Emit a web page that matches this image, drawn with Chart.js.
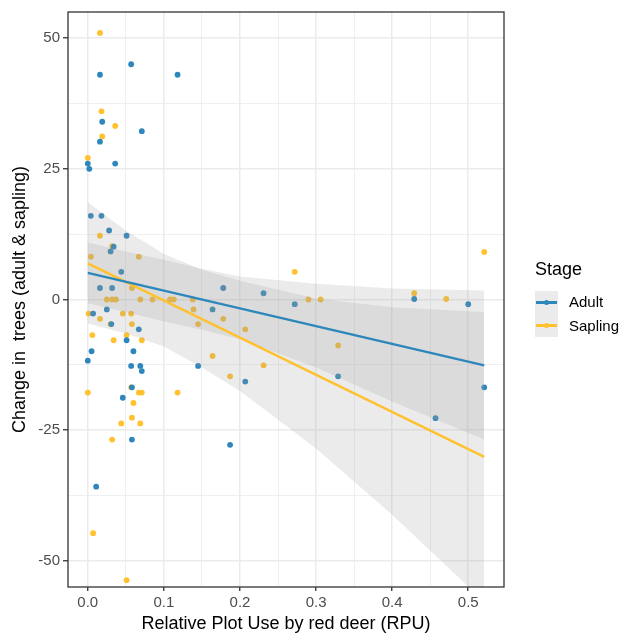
<!DOCTYPE html>
<html>
<head>
<meta charset="utf-8">
<script src="https://cdn.jsdelivr.net/npm/chart.js@4.4.1/dist/chart.umd.min.js"></script>
<style>
    body { margin: 0; background: #fff; font-family: 'Liberation Sans', Arial, sans-serif; }
    #wrap { position: relative; width: 626px; height: 635px; }
    #legend { position: absolute; left: 533px; top: 259px; color: #000; }
    #legend .title { position: absolute; left: 2px; top: 0; font-size: 18px; white-space: nowrap; }
    #legend .keys { position: absolute; left: 2px; top: 32px; width: 23px; height: 46px; background: #ebebeb; }
    #legend .key { position: absolute; left: 0; width: 23px; height: 23px; }
    #legend .key .ln { position: absolute; left: 1px; top: 10px; width: 21px; height: 3px; }
    #legend .key .dot { position: absolute; left: 9px; top: 9px; width: 5px; height: 5px; border-radius: 50%; }
    #legend .lab { position: absolute; left: 36px; font-size: 15px; white-space: nowrap; }
</style>
</head>
<body>
<div id="wrap">
    <canvas id="chart" width="626" height="635"></canvas>
    <div id="legend"></div>
</div>
<script>
// scatter points (x = RPU, y = change in trees)
const adultX = [0.057, 0.016, 0.118, 0.019, 0.071, 0.016, 0.0, 0.002, 0.036, 0.004, 0.018, 0.028, 0.051, 0.034, 0.030,
    0.044, 0.016, 0.032, 0.007, 0.025, 0.031, 0.067, 0.051, 0.005, 0.060, 0.0, 0.057, 0.069, 0.071, 0.145, 0.058, 0.046,
    0.058, 0.011, 0.178, 0.231, 0.272, 0.164, 0.207, 0.329, 0.187, 0.429, 0.500, 0.521, 0.457];
const adultY = [45, 43, 43, 34, 32.2, 30.2, 26, 25, 26, 16, 16, 13.2, 12.2, 10.1, 9.2,
    5.3, 2.2, 2.2, -2.7, -1.9, -4.7, -5.7, -7.8, -9.9, -9.9, -11.7, -12.7, -12.7, -13.7, -12.7, -16.8, -18.8,
    -26.8, -35.8, 2.2, 1.2, -0.9, -1.9, -15.7, -14.7, -27.8, 0.1, -0.9, -16.8, -22.7];

const saplingX = [0.016, 0.018, 0.036, 0.019, 0.0, 0.016, 0.032, 0.004, 0.067, 0.058, 0.025, 0.032, 0.037, 0.069,
    0.085, 0.108, 0.113, 0.138, 0.001, 0.016, 0.046, 0.057, 0.030, 0.058, 0.139, 0.145, 0.006, 0.051, 0.034, 0.071,
    0.057, 0.0, 0.067, 0.071, 0.118, 0.060, 0.058, 0.044, 0.069, 0.032, 0.007, 0.051, 0.272, 0.290, 0.306, 0.178,
    0.207, 0.329, 0.164, 0.231, 0.187, 0.521, 0.429, 0.471];
const saplingY = [51, 36, 33.2, 31.2, 27.1, 12.2, 10.2, 8.2, 8.2, 2.2, 0, 0, 0, 0,
    0, 0, 0, 0, -2.7, -3.7, -2.7, -2.7, -4.7, -4.7, -1.9, -4.7, -6.8, -6.8, -7.8, -7.8,
    -16.8, -17.8, -17.8, -17.8, -17.8, -19.8, -22.6, -23.7, -23.7, -26.8, -44.7, -53.7, 5.3, 0, 0, -3.7,
    -5.7, -8.8, -10.8, -12.6, -14.7, 9.1, 1.2, 0.1];

// linear fits (ends of the drawn lines)
const fitX = [0, 0.521];
const adultFit = [5.1, -12.6];
const saplingFit = [6.9, -30.1];

// confidence ribbons, edges read at these x positions
const bandX = [0, 0.05, 0.1, 0.15, 0.2, 0.3, 0.4, 0.521];
const adultUpper = [10.9, 9.2, 7.6, 5.9, 4.4, 3.0, 2.1, 1.7];
const adultLower = [-0.7, -2.4, -4.2, -5.8, -7.6, -13.0, -19.5, -26.8];
const saplingUpper = [18.6, 13.2, 8.7, 5.7, 3.6, 0.2, -1.5, -2.4];
const saplingLower = [-4.6, -6.5, -9.0, -13.0, -17.5, -28.5, -41.2, -57.8];

// axis ticks
const xMajor = [0, 0.1, 0.2, 0.3, 0.4, 0.5];
const xMinor = [0.05, 0.15, 0.25, 0.35, 0.45];
const yMajor = [-50, -25, 0, 25, 50];
const yMinor = [-37.5, -12.5, 12.5, 37.5];

const stages = ['Adult', 'Sapling'];
const stageColors = ['#2e87bb', '#ffc12e'];
const ribbonFill = 'rgba(153, 153, 153, 0.2)';

const toXY = (xs, ys) => xs.map((x, i) => ({ x, y: ys[i] }));

function lineSet(xs, ys, color) {
    return {
        type: 'line',
        data: toXY(xs, ys),
        borderColor: color,
        borderWidth: 2.4,
        pointRadius: 0,
        fill: false
    };
}

function bandSet(xs, ys, fill) {
    return {
        type: 'line',
        data: toXY(xs, ys),
        borderWidth: 0,
        borderColor: 'rgba(0,0,0,0)',
        backgroundColor: ribbonFill,
        pointRadius: 0,
        fill: fill
    };
}

function pointSet(xs, ys, color) {
    return {
        type: 'scatter',
        data: toXY(xs, ys),
        backgroundColor: color,
        borderWidth: 0,
        pointRadius: 2.9
    };
}

// grid/tick styling: majors get tick marks, minors only thin grid lines
const isMajor = (list, v) => list.some(m => Math.abs(m - v) < 1e-9);

// panel border like theme_bw
const panelBorder = {
    id: 'panelBorder',
    afterDraw(chart) {
        const { ctx, chartArea: a } = chart;
        ctx.save();
        ctx.strokeStyle = '#333333';
        ctx.lineWidth = 1.3;
        ctx.strokeRect(a.left, a.top, a.right - a.left, a.bottom - a.top);
        ctx.restore();
    }
};

Chart.defaults.font.family = "'Liberation Sans', Arial, sans-serif";
Chart.defaults.animation = false;

new Chart(document.getElementById('chart'), {
    type: 'scatter',
    data: {
        datasets: [
            lineSet(fitX, adultFit, stageColors[0]),
            lineSet(fitX, saplingFit, stageColors[1]),
            bandSet(bandX, adultUpper, '+1'),
            bandSet(bandX, adultLower, false),
            bandSet(bandX, saplingUpper, '+1'),
            bandSet(bandX, saplingLower, false),
            pointSet(adultX, adultY, stageColors[0]),
            pointSet(saplingX, saplingY, stageColors[1])
        ]
    },
    options: {
        responsive: false,
        layout: { padding: { top: 12, right: 122, left: 0, bottom: 0 } },
        plugins: {
            legend: { display: false },
            tooltip: { enabled: false }
        },
        scales: {
            x: {
                type: 'linear',
                min: -0.026,
                max: 0.547,
                afterBuildTicks: (scale) => {
                    scale.ticks = [...xMajor, ...xMinor].sort((a, b) => a - b).map(v => ({ value: v }));
                },
                afterFit: (scale) => { scale.height = 48; },
                border: { display: false },
                grid: {
                    color: '#ebebeb',
                    lineWidth: (c) => isMajor(xMajor, c.tick.value) ? 1.5 : 0.8,
                    tickColor: (c) => isMajor(xMajor, c.tick.value) ? '#333333' : 'rgba(0,0,0,0)',
                    tickWidth: 1.3,
                    tickLength: 4
                },
                ticks: {
                    autoSkip: false,
                    maxRotation: 0,
                    padding: 3,
                    color: '#4d4d4d',
                    font: { size: 15 },
                    callback: (v) => isMajor(xMajor, v) ? v.toFixed(1) : ''
                },
                title: {
                    display: true,
                    text: 'Relative Plot Use by red deer (RPU)',
                    color: '#000',
                    font: { size: 18 },
                    padding: { top: 0, bottom: 0 }
                }
            },
            y: {
                min: -55,
                max: 55,
                afterBuildTicks: (scale) => {
                    scale.ticks = [...yMajor, ...yMinor].sort((a, b) => a - b).map(v => ({ value: v }));
                },
                afterFit: (scale) => { scale.width = 68; },
                border: { display: false },
                grid: {
                    color: '#ebebeb',
                    lineWidth: (c) => isMajor(yMajor, c.tick.value) ? 1.5 : 0.8,
                    tickColor: (c) => isMajor(yMajor, c.tick.value) ? '#333333' : 'rgba(0,0,0,0)',
                    tickWidth: 1.3,
                    tickLength: 5
                },
                ticks: {
                    autoSkip: false,
                    padding: 3,
                    color: '#4d4d4d',
                    font: { size: 15 },
                    callback: (v) => isMajor(yMajor, v) ? String(v) : ''
                },
                title: {
                    display: true,
                    text: 'Change in  trees (adult & sapling)',
                    color: '#000',
                    font: { size: 18 },
                    padding: { top: 9, bottom: 0 }
                }
            }
        }
    },
    plugins: [panelBorder]
});

// legend (ggplot style keys)
const legend = document.getElementById('legend');
let html = '<div class="title">Stage</div><div class="keys">';
stages.forEach((s, i) => {
    html += `<div class="key" style="top:${i * 23}px"><div class="ln" style="background:${stageColors[i]}"></div>` +
        `<div class="dot" style="background:${stageColors[i]}"></div></div>`;
});
html += '</div>';
stages.forEach((s, i) => {
    html += `<div class="lab" style="top:${34 + i * 24}px">${s}</div>`;
});
legend.innerHTML = html;
</script>
</body>
</html>
